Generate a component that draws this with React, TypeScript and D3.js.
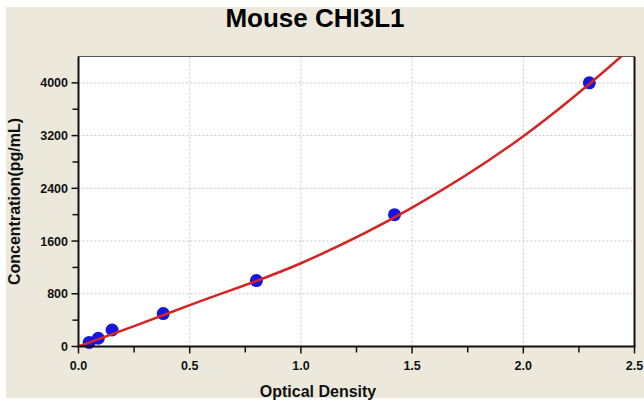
import React from "react";
import * as d3 from "d3";

const W = 644;
const H = 403;

const title = "Mouse CHI3L1";
const xLabel = "Optical Density";
const yLabel = "Concentration(pg/mL)";

const odValues = [0.048, 0.089, 0.151, 0.381, 0.8, 1.421, 2.297];
const concValues = [62.5, 125, 250, 500, 1000, 2000, 4000];

const curveOD = [0, 0.25, 0.5, 1.0, 1.5, 2.0, 2.44, 2.5];
const curveConc = [0, 310, 627, 1263, 2106, 3190, 4400, 4580];

const xMajor = [0, 0.5, 1.0, 1.5, 2.0, 2.5];
const xMinor = [0.25, 0.75, 1.25, 1.75, 2.25];
const yMajor = [0, 800, 1600, 2400, 3200, 4000];
const yMinor = [400, 1200, 2000, 2800, 3600];

const left = 78.5;
const right = 634.5;
const top = 56.5;
const bottom = 346.5;

export default function App() {
  const x = d3.scaleLinear().domain([0, 2.5]).range([left, right]);
  const y = d3.scaleLinear().domain([0, 4400]).range([bottom, top]);

  const line = d3
    .line<number>()
    .x((_, i) => x(curveOD[i]))
    .y((d) => y(d))
    .curve(d3.curveMonotoneX);

  const font = "'Liberation Sans', Arial, sans-serif";

  return (
    <div style={{ position: "fixed", left: 0, top: 0 }}>
      <svg width={W} height={H} style={{ display: "block" }}>
        <rect x={0} y={0} width={W} height={H} fill="#ffffff" />
        <rect x={6} y={7} width={W - 6} height={391} fill="#ECE9DC" />
        <defs>
          <clipPath id="plotClip">
            <rect x={left} y={top} width={right - left} height={bottom - top} />
          </clipPath>
        </defs>
        <rect x={left} y={top} width={right - left} height={bottom - top} fill="#ffffff" />

        {/* grid */}
        {xMajor.slice(1, -1).map((v) => (
          <line key={"gx" + v} x1={x(v)} x2={x(v)} y1={top} y2={bottom} stroke="#c8c8c8" strokeWidth={1} strokeDasharray="2,2" />
        ))}
        {yMajor.slice(1).map((v) => (
          <line key={"gy" + v} x1={left} x2={right} y1={y(v)} y2={y(v)} stroke="#c8c8c8" strokeWidth={1} strokeDasharray="2,2" />
        ))}

        {/* top and right border */}
        <line x1={left} x2={right} y1={top} y2={top} stroke="#555" strokeWidth={1} />
        <line x1={right} x2={right} y1={top} y2={bottom} stroke="#111" strokeWidth={2} />

        {/* points */}
        {odValues.map((v, i) => (
          <circle key={"p" + i} cx={x(v)} cy={y(concValues[i])} r={6.5} fill="#1616E0" />
        ))}

        {/* curve */}
        <g clipPath="url(#plotClip)">
          <path d={line(curveConc) || ""} fill="none" stroke="#D42424" strokeWidth={2.5} />
        </g>

        {/* axes */}
        <line x1={left} x2={left} y1={top} y2={bottom + 1} stroke="#111" strokeWidth={2} />
        <line x1={left - 1} x2={right + 1} y1={bottom} y2={bottom} stroke="#111" strokeWidth={2} />

        {xMajor.map((v) => (
          <g key={"xt" + v}>
            <line x1={x(v)} x2={x(v)} y1={bottom} y2={bottom + 7} stroke="#111" strokeWidth={1.5} />
            <text x={x(v)} y={370} textAnchor="middle" fontFamily={font} fontWeight="bold" fontSize={12.5} fill="#111">
              {v.toFixed(1)}
            </text>
          </g>
        ))}
        {xMinor.map((v) => (
          <line key={"xm" + v} x1={x(v)} x2={x(v)} y1={bottom} y2={bottom + 6} stroke="#111" strokeWidth={1.5} />
        ))}
        {yMajor.map((v) => (
          <g key={"yt" + v}>
            <line x1={left - 7} x2={left} y1={y(v)} y2={y(v)} stroke="#111" strokeWidth={1.5} />
            <text x={68} y={y(v) + 4.5} textAnchor="end" fontFamily={font} fontWeight="bold" fontSize={12.5} fill="#111">
              {v}
            </text>
          </g>
        ))}
        {yMinor.map((v) => (
          <line key={"ym" + v} x1={left - 6} x2={left} y1={y(v)} y2={y(v)} stroke="#111" strokeWidth={1.5} />
        ))}

        <text x={315} y={27} textAnchor="middle" fontFamily={font} fontWeight="bold" fontSize={26} fill="#000">
          {title}
        </text>
        <text x={318} y={397} textAnchor="middle" fontFamily={font} fontWeight="bold" fontSize={16} fill="#111">
          {xLabel}
        </text>
        <text
          transform={`translate(20, ${(top + bottom) / 2}) rotate(-90)`}
          textAnchor="middle"
          fontFamily={font}
          fontWeight="bold"
          fontSize={16}
          fill="#111"
        >
          {yLabel}
        </text>
      </svg>
    </div>
  );
}
